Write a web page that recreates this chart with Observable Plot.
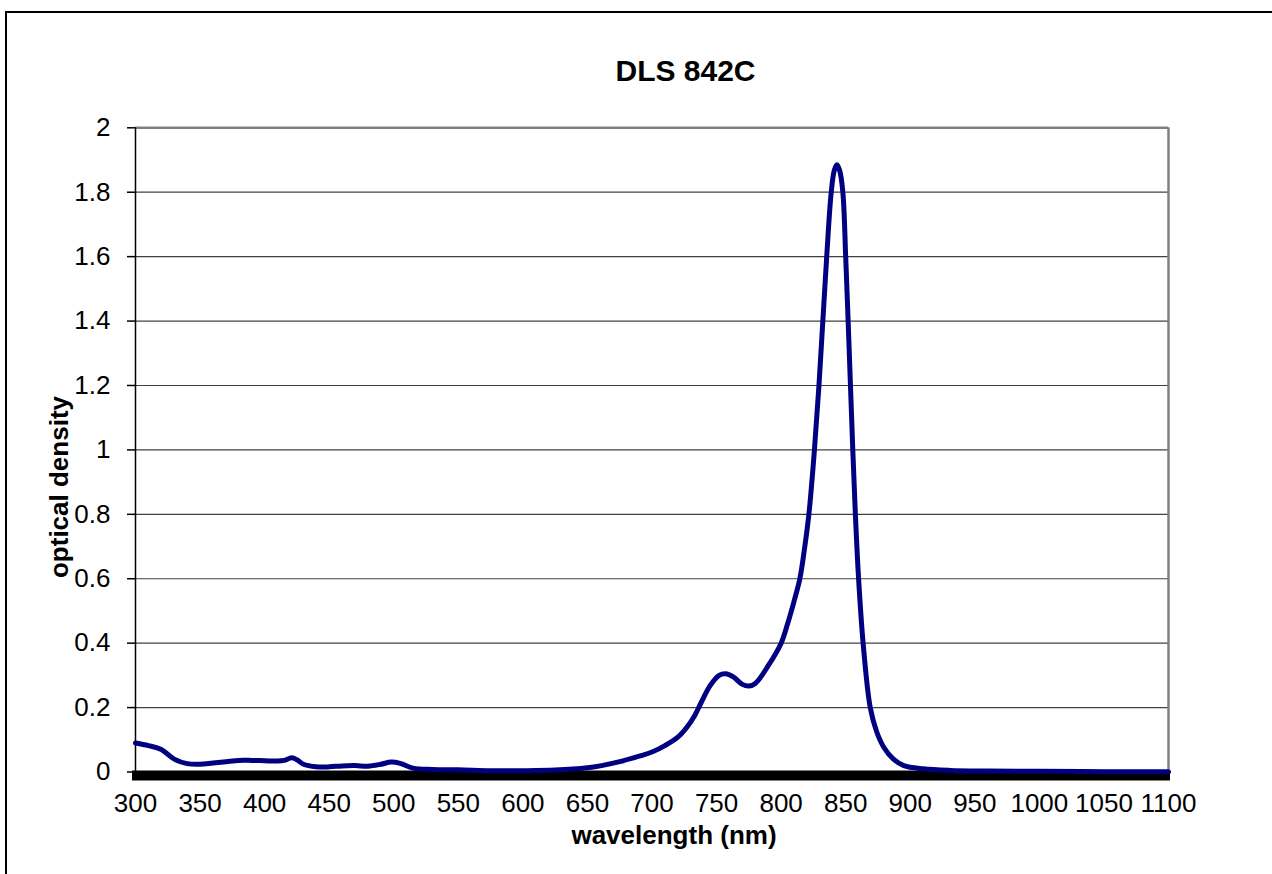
<!DOCTYPE html>
<html><head><meta charset="utf-8">
<script src="https://cdn.jsdelivr.net/npm/d3@7"></script>
<script src="https://cdn.jsdelivr.net/npm/@observablehq/plot@0.6"></script>
<style>
html,body{margin:0;padding:0;background:#fff;overflow:hidden;}
#wrap{position:relative;width:1272px;height:874px;overflow:hidden;background:#fff;}
#border{position:absolute;left:5px;top:11px;width:1400px;height:1000px;border:2px solid #000;box-sizing:border-box;pointer-events:none;}
#chart{position:absolute;left:0;top:0;}
#ylabel{position:absolute;left:59px;top:487px;transform:translate(-50%,-50%) rotate(-90deg);font:bold 26px 'Liberation Sans', Arial, sans-serif;color:#000;white-space:nowrap;line-height:1;}
</style></head><body><div id="wrap"><div id="chart"></div><div id="ylabel"></div><div id="border"></div></div>
<script>
const title = "DLS 842C";
const xLabel = "wavelength (nm)";
const yLabel = "optical density";
const xTicks = [300,350,400,450,500,550,600,650,700,750,800,850,900,950,1000,1050,1100];
const yTicks = [0,0.2,0.4,0.6,0.8,1,1.2,1.4,1.6,1.8,2];
const wavelengths = [300,310,320,330,340,350,360,370,380,390,400,410,415,421,425,430,440,450,460,470,480,490,498,505,515,530,550,575,600,625,650,660,675,690,700,710,720,727,733,738,745,752,757,763,770,775,780,790,800,805,810,814.5,818,821.5,825.8,829.3,832.3,835.3,838.8,841.2,843.2,845.3,847.8,850,851.9,853.7,855.5,857.5,860,863.5,869,874,879.5,887,895,910,931,960,1000,1050,1100];
const density = [0.090,0.082,0.070,0.040,0.026,0.024,0.028,0.032,0.036,0.036,0.035,0.034,0.036,0.044,0.038,0.024,0.016,0.016,0.019,0.020,0.018,0.024,0.031,0.027,0.012,0.008,0.007,0.004,0.004,0.006,0.013,0.019,0.032,0.049,0.062,0.082,0.108,0.139,0.175,0.215,0.268,0.300,0.305,0.295,0.272,0.267,0.275,0.330,0.400,0.460,0.530,0.600,0.690,0.800,1.000,1.200,1.400,1.600,1.800,1.868,1.885,1.868,1.800,1.600,1.400,1.200,1.000,0.800,0.600,0.400,0.200,0.125,0.077,0.040,0.020,0.010,0.005,0.003,0.002,0.001,0.001];

const data = wavelengths.map((w, i) => ({w, od: density[i]}));
const font = "'Liberation Sans', Arial, sans-serif";

const chart = Plot.plot({
  width: 1272, height: 874,
  marginLeft: 135, marginRight: 104, marginTop: 127.3, marginBottom: 102.5,
  style: {fontFamily: font, fontSize: "26px", background: "transparent", color: "#000", overflow: "visible"},
  x: {domain: [300, 1100]},
  y: {domain: [0, 2]},
  marks: [
    Plot.ruleY(yTicks.filter(d => d > 0 && d < 2), {stroke: "#404040", strokeWidth: 1.2}),
    Plot.ruleY([2], {stroke: "#808080", strokeWidth: 2.5}),
    Plot.ruleX([1100], {stroke: "#808080", strokeWidth: 2.5}),
    Plot.ruleX([300], {stroke: "#000", strokeWidth: 1.5}),
    Plot.axisY({ticks: yTicks, tickSize: 8, tickPadding: 17, tickFormat: d => String(+d.toFixed(1)), label: null, stroke: "#000", strokeWidth: 1.5, fill: "#000", fontSize: 26}),
    Plot.axisX({ticks: xTicks, tickSize: 0, tickPadding: 22, tickFormat: d => String(d), label: null, fill: "#000", fontSize: 26}),
    Plot.ruleY([0], {stroke: "#000", strokeWidth: 10, dy: 3.5, insetLeft: -3, insetRight: -2}),
    Plot.line(data, {x: "w", y: "od", stroke: "#000080", strokeWidth: 5, curve: "catmull-rom"}),
    Plot.text([title], {frameAnchor: "top", lineAnchor: "bottom", dx: 33.5, dy: -47.3, fontSize: 30, fontWeight: "bold", fill: "#000"}),
    Plot.text([xLabel], {frameAnchor: "bottom", lineAnchor: "bottom", dx: 22, dy: 72, fontSize: 26, fontWeight: "bold", fill: "#000"})
  ]
});
document.getElementById("chart").appendChild(chart);
document.getElementById("ylabel").textContent = yLabel;
</script></body></html>
